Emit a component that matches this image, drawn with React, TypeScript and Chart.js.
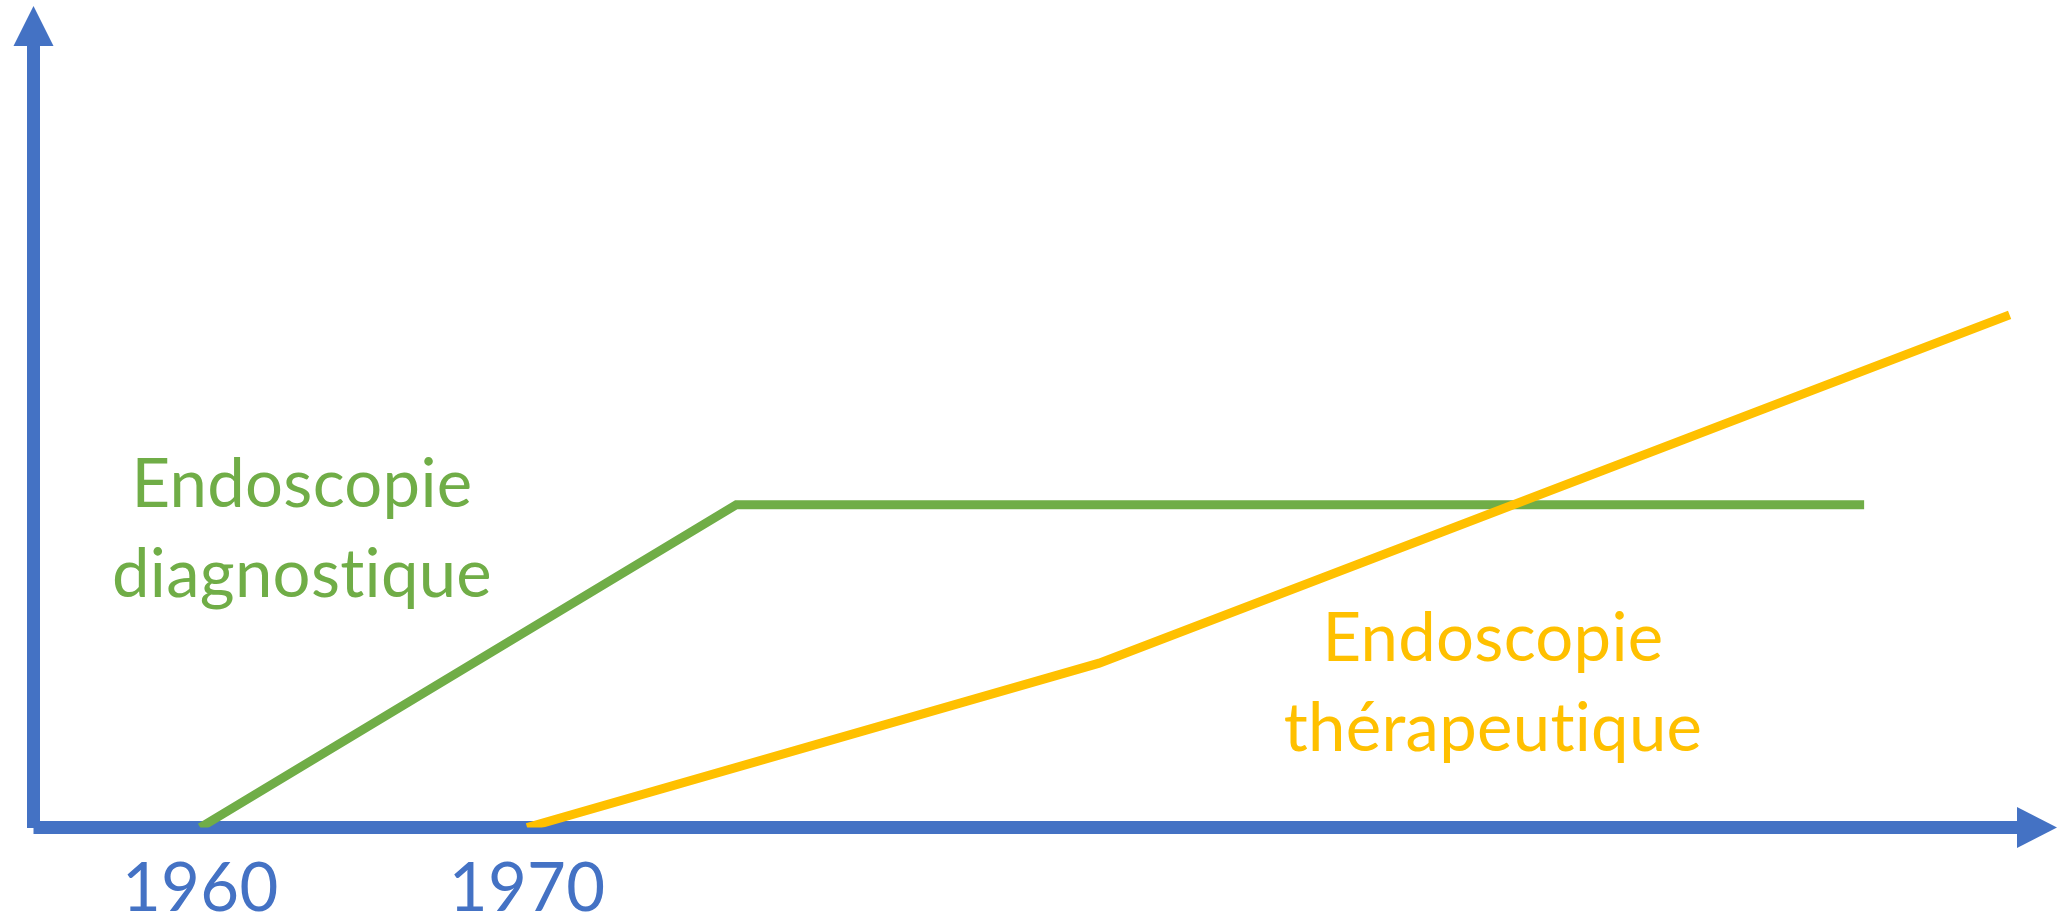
import React, { useEffect, useRef } from "react";
import { Chart, registerables } from "chart.js";

Chart.register(...registerables);

// Data (x in years, y in arbitrary progress units 0..100)
const tickYears = [1960, 1970];
const greenX = [1960, 1976.4, 2010.9];
const greenY = [0, 39.3, 39.3];
const yellowX = [1970, 1987.5, 2015.35];
const yellowY = [0, 20.0, 62.4];
const greenLabel = ["Endoscopie", "diagnostique"];
const yellowLabel = ["Endoscopie", "thérapeutique"];

const BLUE = "#4472C4";
const GREEN = "#70AD47";
const YELLOW = "#FFC000";
const FONT = "Lato, 'Open Sans', sans-serif";

const X_MIN = 1954.9;
const X_MAX = 2016.8;

const toPts = (xs: number[], ys: number[]) => xs.map((x, i) => ({ x, y: ys[i] }));

const axesPlugin = {
  id: "arrowAxes",
  beforeDatasetsDraw(chart: any) {
    const { ctx, chartArea } = chart;
    const xs = chart.scales.x;
    const ys = chart.scales.y;
    const x0 = xs.getPixelForValue(X_MIN);
    const y0 = ys.getPixelForValue(0);
    const top = chartArea.top;
    const right = chartArea.right;
    const w = 13;
    ctx.save();
    ctx.fillStyle = BLUE;
    ctx.fillRect(x0 - w / 2, top + 40, w, y0 - (top + 40) + 0.5);
    ctx.fillRect(x0, y0 - w / 2, right - 40 - x0, w);
    ctx.beginPath();
    ctx.moveTo(x0 - 20, top + 40);
    ctx.lineTo(x0 + 20, top + 40);
    ctx.lineTo(x0, top);
    ctx.closePath();
    ctx.fill();
    ctx.beginPath();
    ctx.moveTo(right - 40, y0 - 20.5);
    ctx.lineTo(right - 40, y0 + 20.5);
    ctx.lineTo(right, y0);
    ctx.closePath();
    ctx.fill();
    ctx.restore();
  },
  afterDatasetsDraw(chart: any) {
    const { ctx } = chart;
    const xs = chart.scales.x;
    const ys = chart.scales.y;
    ctx.save();
    ctx.font = `67px ${FONT}`;
    try {
      (ctx as any).letterSpacing = "0.3px";
    } catch (e) {}
    ctx.textAlign = "center";
    ctx.textBaseline = "alphabetic";
    ctx.fillStyle = BLUE;
    const y0 = ys.getPixelForValue(0);
    tickYears.forEach((t) => {
      ctx.fillText(String(t), xs.getPixelForValue(t), y0 + 83);
    });
    ctx.fillStyle = GREEN;
    ctx.fillText(greenLabel[0], 302, 507);
    ctx.fillText(greenLabel[1], 302, 597);
    ctx.fillStyle = YELLOW;
    ctx.fillText(yellowLabel[0], 1493, 661);
    ctx.fillText(yellowLabel[1], 1493, 751);
    ctx.restore();
  },
};

export default function App() {
  const ref = useRef<HTMLCanvasElement | null>(null);
  useEffect(() => {
    if (!ref.current) return;
    const chart = new Chart(ref.current, {
      type: "line",
      data: {
        datasets: [
          {
            label: yellowLabel.join(" "),
            data: toPts(yellowX, yellowY),
            borderColor: YELLOW,
            borderWidth: 9,
            pointRadius: 0,
            fill: false,
            tension: 0,
          },
          {
            label: greenLabel.join(" "),
            data: toPts(greenX, greenY),
            borderColor: GREEN,
            borderWidth: 9,
            pointRadius: 0,
            fill: false,
            tension: 0,
          },
        ],
      },
      options: {
        animation: false,
        responsive: false,
        maintainAspectRatio: false,
        layout: { padding: { left: 33.5, top: 6, right: 3, bottom: 88.5 } },
        plugins: { legend: { display: false }, tooltip: { enabled: false } },
        scales: {
          x: { type: "linear", min: X_MIN, max: X_MAX, display: false },
          y: { type: "linear", min: 0, max: 100, display: false },
        },
      },
      plugins: [axesPlugin],
    });
    return () => chart.destroy();
  }, []);
  return (
    <div style={{ position: "absolute", left: 0, top: 0, width: 2060, height: 916, background: "#fff" }}>
      <canvas ref={ref} width={2060} height={916} style={{ width: 2060, height: 916, display: "block" }} />
    </div>
  );
}
